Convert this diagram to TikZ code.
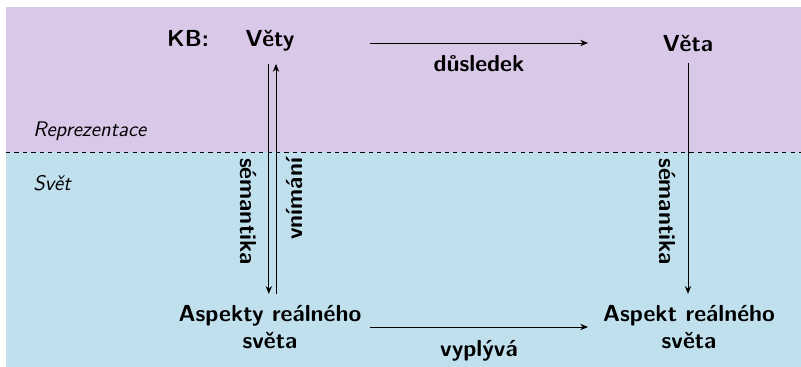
\documentclass[tikz,border=0pt]{standalone}
\usepackage{fontspec}
\definecolor{reprpurple}{RGB}{218,200,233}
\definecolor{worldblue}{RGB}{191,224,236}
\usetikzlibrary{arrows.meta,positioning,calc}

\begin{document}
\begin{tikzpicture}[x=0.025cm, y=-0.025cm, >={Stealth[length=5.5pt,width=4.5pt]},
    lbl/.style={font=\fontsize{16.5}{19.2}\selectfont\sffamily\bfseries, inner sep=0pt},
    area/.style={font=\fontsize{15}{17}\selectfont\sffamily\itshape, inner sep=0pt, anchor=base west},
    conn/.style={->, line width=0.6pt}]
    \useasboundingbox (0,0) rectangle (801,367);

    % Two layers: representation above, world below
    \fill[reprpurple] (6,7) rectangle (801,152);
    \fill[worldblue] (6,152) rectangle (801,367);
    \draw[dashed, line width=0.6pt] (6,152) -- (801,152);
    \node[area] (repr) at (33,137) {Reprezentace};
    \node[area] (world) at (33,190) {Svět};

    % Sentences in the knowledge base
    \node[lbl, anchor=base] (kb) at (188,47) {KB:};
    \node[lbl, anchor=base] (vety) at (270,47) {Věty};
    \node[lbl, anchor=base] (veta) at (688,52) {Věta};

    % Aspects of the real world
    \node[lbl, align=center] (aspekty) at (270,327) {Aspekty reálného\\světa};
    \node[lbl, align=center] (aspekt) at (689,327) {Aspekt reálného\\světa};

    % Horizontal relations
    \coordinate (dus-a) at (370,43);
    \coordinate (dus-b) at (588,43);
    \draw[conn] (dus-a) -- node[lbl, below=0.3cm] (dus) {důsledek} (dus-b);
    \coordinate (vyp-a) at (370,327);
    \coordinate (vyp-b) at (588,327);
    \draw[conn] (vyp-a) -- node[lbl, below=0.32cm] (vyp) {vyplývá} (vyp-b);

    % Semantics down, perception up
    \draw[conn, shorten <=0.3cm, shorten >=0.28cm] ([xshift=-0.03cm]vety.south) --
      node[lbl, sloped, pos=0.63, below=0.3cm] (sem1) {sémantika} ([xshift=-0.03cm]aspekty.north);
    \draw[conn, shorten <=0.28cm, shorten >=0.3cm] ([xshift=0.15cm]aspekty.north) --
      node[lbl, sloped, pos=0.42, below=0.26cm] (vnim) {vnímání} ([xshift=0.15cm]vety.south);
    \draw[conn, shorten <=0.25cm, shorten >=0.28cm] (veta.south) --
      node[lbl, sloped, pos=0.63, below=0.3cm] (sem2) {sémantika} (veta.south |- aspekt.north);
  \end{tikzpicture}
\end{document}
